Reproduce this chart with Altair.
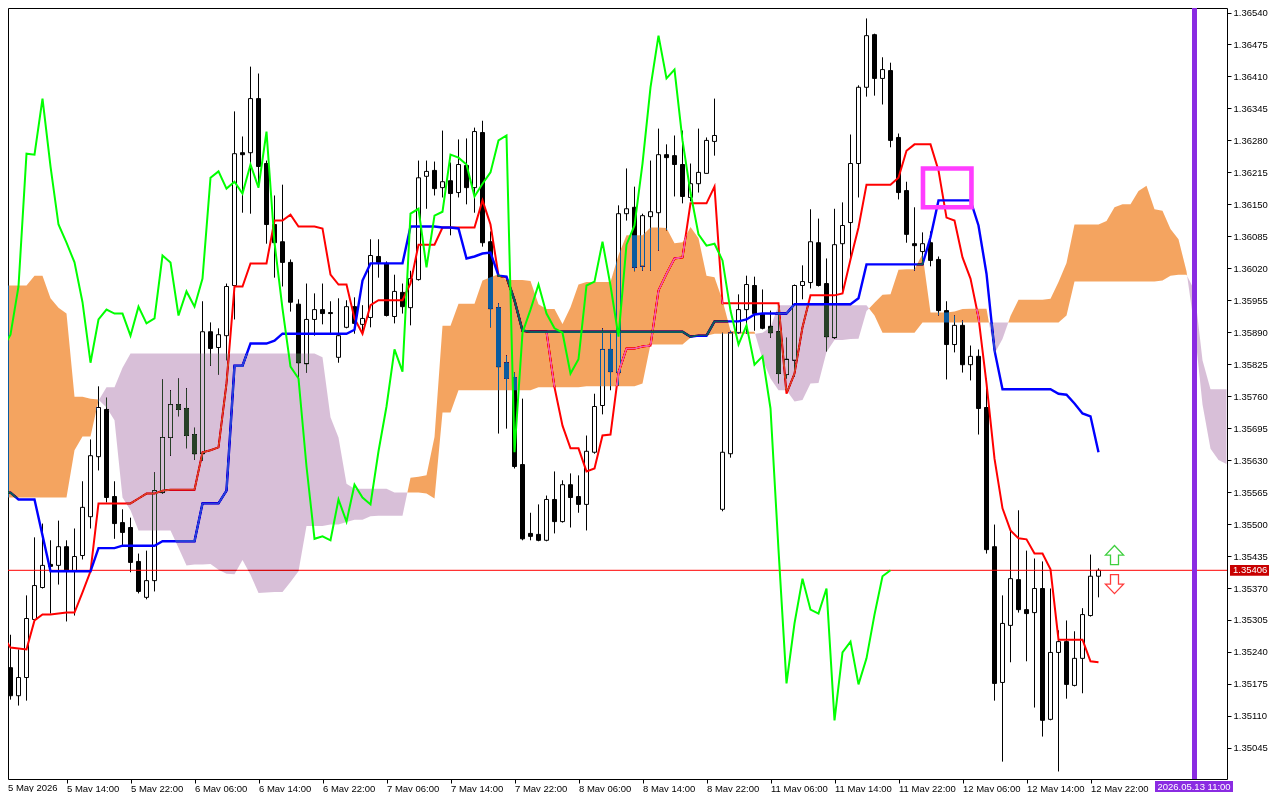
import altair as alt
import pandas as pd

# H1 candles, prices in points (1.35255 -> 135255)
opens = [
    135255, 135208, 135151, 135188, 135306, 135371, 135418, 135416, 135454, 135404,
    135436, 135515, 135637, 135733, 135556, 135503, 135493, 135424, 135351, 135385,
    135564, 135676, 135743, 135735, 135682, 135643, 135891, 135859, 135883, 135985,
    136255, 136255, 136365, 136233, 136109, 136074, 136032, 135947, 135826, 135916,
    135936, 135930, 135839, 135900, 135942, 135906, 135920, 136044, 136030, 135922,
    135971, 135940, 135997, 136207, 136219, 136184, 136198, 136174, 136229, 136184,
    136296, 136074, 135940, 135828, 135798, 135621, 135481, 135479, 135467, 135550,
    135505, 135580, 135556, 135540, 135646, 135741, 135855, 135808, 136131, 136144,
    136024, 136125, 136133, 136251, 136249, 136231, 136164, 136192, 136213, 136278,
    135530, 135643, 135889, 135936, 135985, 135928, 135902, 135891, 135804, 135833,
    135985, 135991, 136072, 135989, 135879, 136070, 136113, 136233, 136388, 136495,
    136406, 136422, 136286, 136178, 136070, 136054, 136072, 136038, 135934, 135865,
    135904, 135824, 135841, 135737, 135454, 135178, 135294, 135387, 135326, 135320,
    135369, 135103, 135239, 135261, 135172, 135227, 135314, 135394,
]
highs = [
    135263, 135275, 135245, 135355, 135473, 135501, 135467, 135507, 135467, 135491,
    135587, 135672, 135780, 135757, 135587, 135530, 135513, 135440, 135446, 135605,
    135794, 135772, 135796, 135776, 135696, 135953, 135910, 135898, 135989, 136339,
    136288, 136430, 136416, 136239, 136168, 136190, 136038, 135957, 135989, 135969,
    135989, 135953, 135959, 135955, 135961, 135945, 136079, 136079, 136034, 136007,
    135989, 136015, 136239, 136239, 136237, 136300, 136235, 136282, 136284, 136306,
    136320, 136095, 135949, 135843, 135808, 135755, 135523, 135540, 135558, 135607,
    135589, 135603, 135599, 135680, 135765, 135898, 135887, 136148, 136223, 136186,
    136131, 136239, 136304, 136272, 136290, 136300, 136233, 136304, 136286, 136365,
    135889, 135893, 135967, 136005, 136003, 135977, 135934, 135949, 135879, 135987,
    136026, 136140, 136121, 136040, 136141, 136154, 136292, 136392, 136528, 136497,
    136449, 136438, 136294, 136196, 136144, 136093, 136095, 136044, 135953, 135924,
    135914, 135863, 135855, 135796, 135499, 135355, 135487, 135528, 135446, 135430,
    135424, 135369, 135284, 135304, 135282, 135329, 135438, 135410,
]
lows = [
    135202, 135143, 135131, 135141, 135304, 135369, 135318, 135377, 135302, 135314,
    135428, 135491, 135609, 135544, 135470, 135456, 135402, 135359, 135347, 135363,
    135562, 135639, 135719, 135654, 135631, 135629, 135822, 135804, 135833, 135916,
    136133, 136131, 136184, 136070, 136001, 135983, 135932, 135798, 135808, 135883,
    135906, 135887, 135828, 135898, 135887, 135887, 135900, 136001, 135922, 135908,
    135928, 135904, 135995, 136141, 136168, 136164, 136087, 136164, 136150, 136133,
    136064, 135900, 135684, 135694, 135613, 135467, 135467, 135465, 135465, 135481,
    135503, 135493, 135523, 135487, 135643, 135723, 135772, 135782, 136117, 136014,
    136015, 136015, 136056, 136097, 136166, 136152, 136156, 136174, 136213, 136249,
    135526, 135635, 135887, 135887, 135893, 135896, 135879, 135786, 135796, 135800,
    135957, 135979, 135983, 135851, 135877, 135969, 136036, 136164, 136369, 136371,
    136353, 136266, 136160, 136072, 136015, 136030, 136024, 135924, 135794, 135849,
    135808, 135792, 135682, 135440, 135141, 135017, 135219, 135320, 135221, 135127,
    135068, 135101, 134997, 135145, 135170, 135156, 135312, 135351,
]
closes = [
    135206, 135151, 135188, 135308, 135375, 135416, 135414, 135454, 135404, 135434,
    135534, 135639, 135737, 135554, 135501, 135483, 135422, 135363, 135385, 135568,
    135676, 135743, 135733, 135680, 135643, 135891, 135857, 135885, 135983, 136253,
    136251, 136365, 136227, 136109, 136072, 136032, 135951, 135828, 135916, 135936,
    135928, 135928, 135883, 135942, 135908, 135918, 136046, 136032, 135924, 135973,
    135942, 135999, 136204, 136217, 136182, 136196, 136172, 136231, 136184, 136298,
    136072, 135938, 135820, 135796, 135617, 135470, 135475, 135467, 135550, 135505,
    135580, 135554, 135540, 135648, 135739, 135855, 135810, 136131, 136141, 136022,
    136127, 136135, 136251, 136245, 136231, 136166, 136192, 136215, 136280, 136290,
    135646, 135889, 135936, 135987, 135928, 135898, 135889, 135806, 135835, 135985,
    135993, 136074, 135985, 135881, 136068, 136107, 136233, 136388, 136493, 136406,
    136424, 136280, 136174, 136089, 136066, 136070, 136036, 135934, 135865, 135904,
    135824, 135841, 135735, 135448, 135176, 135298, 135389, 135326, 135318, 135369,
    135101, 135239, 135261, 135174, 135227, 135316, 135394, 135406,
]

tenkan = (
    [135273, 135249, 135247, 135245, 135304, 135316, 135316, 135318, 135320, 135320, 135361, 135404]
    + [135542] * 5 + [135552, 135562, 135562, 135568] + [135570] * 4
    + [135646, 135650, 135656, 135786, 135983, 135983] + [136030] * 3 + [136117] * 2
    + [136129] + [136105] * 3 + [136101, 136007, 135987, 135987, 135918, 135887, 135945]
    + [135955] * 4 + [135989] + [136068] * 3 + [136103] * 5
    + [136158, 136109, 136005, 136001, 135955, 135893] + [135891] * 3
    + [135778, 135700, 135654, 135654, 135607, 135613, 135680, 135682, 135808, 135857, 135857]
    + [135861, 135863, 135975, 136009, 136040, 136042] + [136152] * 3 + [136186]
    + [135949] * 8 + [135765, 135806, 135900] + [135965] * 4
    + [135969, 136038, 136103] + [136190] * 4 + [136204, 136259] + [136272] * 3
    + [136219, 136123, 136117, 136042, 135999, 135920, 135786, 135633, 135532, 135487]
    + [135471, 135469, 135440, 135440, 135408] + [135265] * 4 + [135221, 135219]
)
kijun = (
    [135564] * 2 + [135550] * 3 + [135477] + [135404] * 6 + [135451] * 3 + [135456] * 5
    + [135465] * 5 + [135542] * 3 + [135568, 135822, 135822] + [135867] * 3 + [135873]
    + [135887] * 9 + [135895, 135995] + [136030] * 5 + [136105] * 4
    + [136103, 136103, 136101, 136040, 136044, 136050, 136052, 136005, 136003, 135955, 135893]
    + [135891] * 20 + [135881, 135883, 135883] + [135912] * 4 + [135916, 135926]
    + [135928] * 4 + [135947] * 8 + [135959] + [136028] * 8 + [136083] + [136158] * 5
    + [136107, 136009, 135853] + [135774] * 7 + [135765, 135763, 135745, 135725, 135719, 135646]
)
chikou = closes[26:]

span_a = (
    [135985] * 4 + [136005] * 2 + [135959, 135940, 135928, 135759, 135759, 135755, 135753]
    + [135737, 135711, 135554, 135528] + [135487] * 5 + [135452, 135416, 135418, 135418]
    + [135419, 135407, 135399, 135398, 135427, 135397, 135360, 135361, 135362, 135362, 135382, 135404]
    + [135496] * 3 + [135499] * 2 + [135504, 135509, 135509, 135516] + [135517] * 4
    + [135594, 135596, 135599, 135677, 135903, 135903] + [135948] * 3
    + [135995, 136002, 136008] + [135996] * 3 + [135994, 135947, 135937, 135937, 135907, 135941, 135987]
    + [135992] * 4 + [136047] + [136087] * 3 + [136103] * 2
    + [136102, 136071, 136073, 136104, 136081, 136005, 136002, 135955, 135893] + [135891] * 3
    + [135835, 135796, 135772, 135772, 135749, 135752, 135786, 135787, 135850, 135874, 135874]
    + [135876, 135877, 135933, 135950, 135966, 135967, 136017, 136018, 136018, 136049]
    + [135930] * 3 + [135932, 135937] + [135938] * 3 + [135847, 135876, 135923] + [135956] * 4
    + [135958, 135992, 136031] + [136109] * 4 + [136116, 136144, 136150, 136150]
    + [136177, 136188, 136140, 136137, 136100, 136079, 136014, 135898, 135743, 135653, 135630, 135622]
)
span_b = (
    [135554] * 9 + [135650, 135678, 135678, 135751, 135778, 135778, 135818] + [135847] * 24
    + [135839, 135717, 135676, 135582] + [135572] * 5 + [135564] * 4 + [135562, 135552]
    + [135727] * 2 + [135772] * 10 + [135778] * 6 + [135780] * 7 + [135786] + [135865] * 5
    + [135879, 135883, 135883] + [135887] * 6 + [135889, 135900] + [135945] * 12 + [135924]
    + [135889] * 5 + [135910] * 18 + [135924, 135993] + [135993] * 10
    + [135995, 136005, 136007, 136007, 135975, 135833, 135774, 135774, 135774]
)

y_ticks = [1.3654 - k * 0.00065 for k in range(24)]
x_labels = [
    "5 May 14:00", "5 May 22:00", "6 May 06:00", "6 May 14:00", "6 May 22:00",
    "7 May 06:00", "7 May 14:00", "7 May 22:00", "8 May 06:00", "8 May 14:00",
    "8 May 22:00", "11 May 06:00", "11 May 14:00", "11 May 22:00", "12 May 06:00",
    "12 May 14:00", "12 May 22:00",
]
first_label = "5 May 2026"
bid = 1.35406
bid_text = "1.35406"
cursor_bar = 149
cursor_text = "2026.05.13 11:00"
box_bars = [115.06, 121.12]
box_prices = [1.36223, 1.36144]
arrow_bar = 139
arrow_up_price = 1.35437
arrow_down_price = 1.35378

FONT = "Liberation Sans"
ARROW_UP = "M0,-1L0.95,0L0.42,0L0.42,1L-0.42,1L-0.42,0L-0.95,0Z"
ARROW_DOWN = "M0,1L0.95,0L0.42,0L0.42,-1L-0.42,-1L-0.42,0L-0.95,0Z"


def points(values):
    return [v / 1e5 for v in values]


def cloud_runs(a, b):
    # split the cloud where the two spans cross, one run per colour
    rows = []
    run = 0
    for i in range(len(a)):
        up = a[i] >= b[i]
        if i > 0 and up != (a[i - 1] >= b[i - 1]):
            t = (a[i - 1] - b[i - 1]) / ((a[i - 1] - b[i - 1]) - (a[i] - b[i]))
            cross = a[i - 1] + t * (a[i] - a[i - 1])
            prev_fill = "#274027" if up else "#0b5b9f"
            rows.append(dict(bar=i - 1 + t, a=cross, b=cross, run=run, fill=prev_fill))
            run += 1
            rows.append(dict(bar=i - 1 + t, a=cross, b=cross, run=run, fill="#0b5b9f" if up else "#274027"))
        rows.append(dict(bar=i, a=a[i], b=b[i], run=run, fill="#0b5b9f" if up else "#274027"))
    return pd.DataFrame(rows)


candles = pd.DataFrame({
    "bar": range(len(opens)),
    "open": points(opens),
    "high": points(highs),
    "low": points(lows),
    "close": points(closes),
})
candles["body"] = ["white" if c >= o else "black" for o, c in zip(opens, closes)]
cloud = cloud_runs(points(span_a), points(span_b))
tenkan_df = pd.DataFrame({"bar": range(len(tenkan)), "price": points(tenkan)})
kijun_df = pd.DataFrame({"bar": range(len(kijun)), "price": points(kijun)})
chikou_df = pd.DataFrame({"bar": range(len(chikou)), "price": points(chikou)})
box = pd.DataFrame([{"x": box_bars[0], "x2": box_bars[1], "y": box_prices[0], "y2": box_prices[1]}])
arrows = pd.DataFrame({"bar": [arrow_bar], "up": [arrow_up_price], "down": [arrow_down_price]})
single = pd.DataFrame({"n": [0]})

x_scale = alt.Scale(domain=[0.6875, 153.0625], nice=False, zero=False, padding=0)
y_scale = alt.Scale(domain=[1.349817, 1.365492], nice=False, zero=False)
x_axis = alt.Axis(
    values=[8 * (k + 1) for k in range(len(x_labels))],
    labelExpr="[" + ",".join(f"'{s}'" for s in x_labels) + "][datum.value / 8 - 1]",
    title=None, grid=False, domain=False, labelAlign="left", labelFlush=False,
    labelOverlap=False, labelBound=False, tickSize=4, tickColor="black",
    labelColor="black", labelFont=FONT, labelFontSize=9.5, labelPadding=0,
)
y_axis = alt.Axis(
    orient="right", values=y_ticks, format=".5f", title=None, grid=False, domain=False,
    labelOverlap=False, labelBound=False, labelFlush=False, tickSize=4, tickColor="black",
    labelColor="black", labelFont=FONT, labelFontSize=9.5, labelPadding=2,
)
x = alt.X("bar:Q", scale=x_scale, axis=x_axis)
price = alt.Y("price:Q", scale=y_scale, axis=y_axis)

wicks = alt.Chart(candles).mark_rule(color="black", strokeWidth=1).encode(
    x=x,
    y=alt.Y("low:Q", scale=y_scale, axis=y_axis),
    y2="high:Q",
)
bodies = alt.Chart(candles).mark_bar(size=4, stroke="black", strokeWidth=1).encode(
    x=x,
    y=alt.Y("open:Q", scale=y_scale, axis=y_axis),
    y2="close:Q",
    fill=alt.Fill("body:N", scale=None),
)
bid_line = alt.Chart(single).mark_rule(color="#ff0000", strokeWidth=1).encode(
    y=alt.Y(datum=bid, scale=y_scale, axis=y_axis),
)
tenkan_line = alt.Chart(tenkan_df).mark_line(color="#ff0000", strokeWidth=2).encode(x=x, y=price)
# a touch wider, so no red fringe shows where the two lines coincide
kijun_line = alt.Chart(kijun_df).mark_line(color="#0000ff", strokeWidth=2.4).encode(x=x, y=price)
# the terminal paints the cloud as an inversion of whatever lies under it
cloud_area = alt.Chart(cloud).mark_area(blend="difference", opacity=1).encode(
    x=x,
    y=alt.Y("a:Q", scale=y_scale, axis=y_axis),
    y2="b:Q",
    detail="run:N",
    fill=alt.Fill("fill:N", scale=None),
)
chikou_line = alt.Chart(chikou_df).mark_line(color="#00ff00", strokeWidth=2).encode(x=x, y=price)
up_arrow = alt.Chart(arrows).mark_point(
    shape=ARROW_UP, size=361, filled=True, fill="white", stroke="#3fcf3f", strokeWidth=1.3, opacity=1,
).encode(x=x, y=alt.Y("up:Q", scale=y_scale, axis=y_axis))
down_arrow = alt.Chart(arrows).mark_point(
    shape=ARROW_DOWN, size=361, filled=True, fill="white", stroke="#ff3b3b", strokeWidth=1.3, opacity=1,
).encode(x=x, y=alt.Y("down:Q", scale=y_scale, axis=y_axis))
box_mark = alt.Chart(box).mark_rect(fillOpacity=0, stroke="#ff3dff", strokeWidth=4.6).encode(
    x=alt.X("x:Q", scale=x_scale, axis=x_axis),
    x2="x2:Q",
    y=alt.Y("y:Q", scale=y_scale, axis=y_axis),
    y2="y2:Q",
)
cursor_line = alt.Chart(single).mark_rule(color="#8a2be2", strokeWidth=5).encode(
    x=alt.X(datum=cursor_bar, scale=x_scale, axis=x_axis),
)

bid_tag = alt.Chart(single).mark_rect(color="#c80000").encode(
    x=alt.value(1222),
    x2=alt.value(1261),
    y=alt.Y(datum=bid + 0.00011, scale=y_scale, axis=y_axis),
    y2=alt.Y2(datum=bid - 0.00011),
)
bid_label = alt.Chart(single).mark_text(
    color="white", align="left", font=FONT, fontSize=9.5,
).encode(
    x=alt.value(1225),
    y=alt.Y(datum=bid, scale=y_scale, axis=y_axis),
    text=alt.value(bid_text),
)
cursor_tag = alt.Chart(single).mark_rect(color="#8a2be2").encode(
    x=alt.value(1147), x2=alt.value(1225), y=alt.value(773), y2=alt.value(784),
)
cursor_label = alt.Chart(single).mark_text(
    color="white", align="center", font=FONT, fontSize=9.5,
).encode(x=alt.value(1186), y=alt.value(778.5), text=alt.value(cursor_text))
start_label = alt.Chart(single).mark_text(
    color="black", align="left", baseline="top", font=FONT, fontSize=9.5,
).encode(x=alt.value(0), y=alt.value(775), text=alt.value(first_label))

chart = alt.layer(
    wicks, bodies, bid_line, tenkan_line, kijun_line, cloud_area, chikou_line,
    up_arrow, down_arrow, box_mark, cursor_line,
    bid_tag, bid_label, cursor_tag, cursor_label, start_label,
).properties(
    width=1219,
    height=771,
    padding={"left": 0, "top": 0, "right": 44, "bottom": 13},
    autosize=alt.AutoSizeParams(type="none"),
    background="white",
).configure_view(stroke="black", strokeWidth=1)

chart.save("out.html", embed_options={"renderer": "svg", "actions": False})
